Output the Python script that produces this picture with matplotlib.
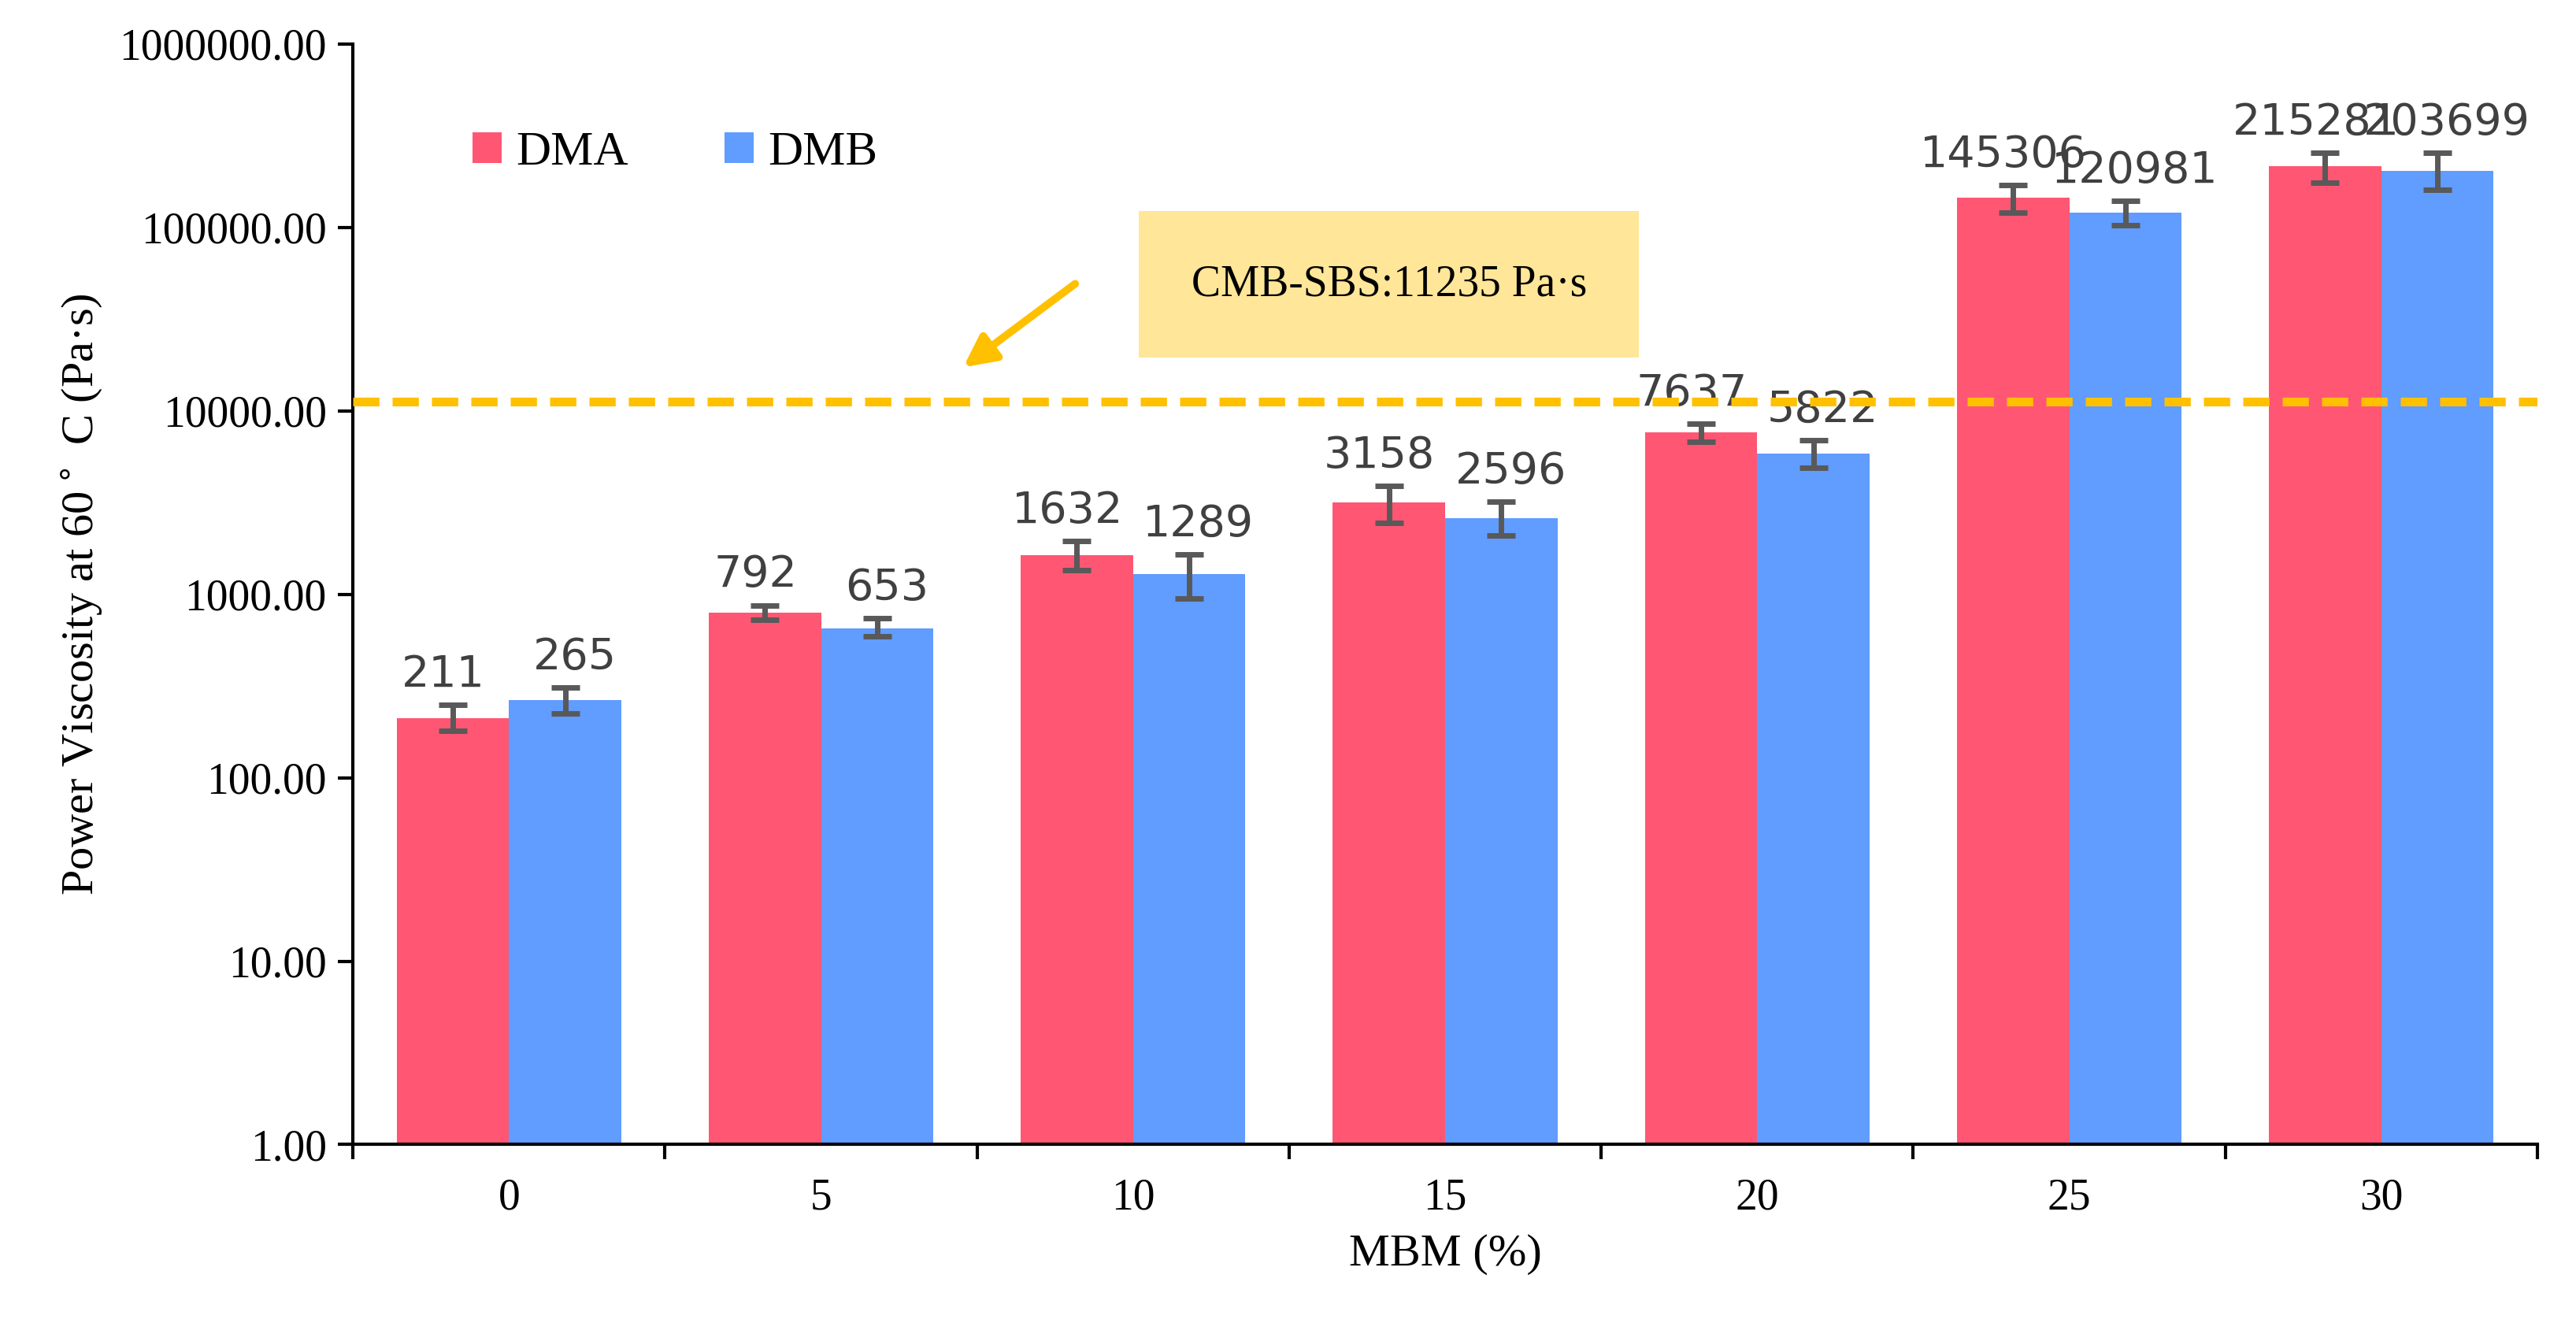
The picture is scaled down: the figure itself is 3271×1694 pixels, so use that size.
import matplotlib
matplotlib.use("Agg")
import matplotlib.pyplot as plt
import numpy as np
from matplotlib.ticker import FixedLocator, NullLocator

categories = ["0", "5", "10", "15", "20", "25", "30"]
dma = [211, 792, 1632, 3158, 7637, 145306, 215281]
dmb = [265, 653, 1289, 2596, 5822, 120981, 203699]
dma_lo = [180, 730, 1350, 2450, 6800, 120000, 175000]
dma_hi = [250, 870, 1950, 3900, 8500, 170000, 255000]
dmb_lo = [225, 590, 950, 2100, 4900, 103000, 160000]
dmb_hi = [310, 740, 1650, 3200, 6900, 140000, 255000]
ref_value = 11235

fig = plt.figure(figsize=(32.71, 16.94), dpi=100)
ax = fig.add_axes([0.137, 0.142, 0.848, 0.825])
x = np.arange(len(categories))
w = 0.36
serif = "Liberation Serif"
c1, c2 = "#FF5773", "#619CFF"
ekw = dict(ecolor="#595959", elinewidth=5, capsize=13, capthick=5)

def err(v, lo, hi):
    return [np.array(v) - np.array(lo), np.array(hi) - np.array(v)]

ax.bar(x - w/2, dma, w, color=c1, label="DMA", zorder=2, yerr=err(dma, dma_lo, dma_hi), error_kw=ekw)
ax.bar(x + w/2, dmb, w, color=c2, label="DMB", zorder=2, yerr=err(dmb, dmb_lo, dmb_hi), error_kw=ekw)
for xi, v, hi in zip(x, dma, dma_hi):
    ax.text(xi - w/2 - 0.03, hi * 1.12, str(v), ha="center", va="bottom", fontsize=40, color="#404040", family="DejaVu Sans")
for xi, v, hi in zip(x, dmb, dmb_hi):
    ax.text(xi + w/2 + 0.03, hi * 1.12, str(v), ha="center", va="bottom", fontsize=40, color="#404040", family="DejaVu Sans")

ax.axhline(ref_value, color="#FFC000", lw=8, ls=(0, (3, 1.5)), zorder=3)
ax.text(2.82, 10**4.69, "CMB-SBS:11235 Pa·s", ha="center", va="center", fontsize=40, family=serif,
        bbox=dict(boxstyle="square,pad=1.2", fc="#FFE699", ec="none"), zorder=4)
ax.annotate("", xy=(1.45, 10**4.23), xytext=(1.82, 10**4.70),
            arrowprops=dict(arrowstyle="-|>", color="#FFC000", lw=7, mutation_scale=60), zorder=4)

ax.set_yscale("log")
ax.set_ylim(1, 1e6)
ax.set_xlim(-0.5, 6.5)
ax.yaxis.set_major_locator(FixedLocator([10**i for i in range(7)]))
ax.yaxis.set_minor_locator(NullLocator())
ax.set_yticklabels([f"{10**i:.2f}" for i in range(7)], family=serif, fontsize=40)
ax.set_xticks(x)
ax.set_xticklabels(categories, family=serif, fontsize=40)
ax.xaxis.set_minor_locator(FixedLocator(np.arange(-0.5, 7, 1)))
ax.tick_params(axis="x", which="major", length=0, pad=30)
ax.tick_params(axis="x", which="minor", length=14, width=3, direction="out")
ax.tick_params(axis="y", length=14, width=3, direction="out", pad=10)
for s in ["top", "right"]:
    ax.spines[s].set_visible(False)
for s in ["left", "bottom"]:
    ax.spines[s].set_linewidth(3)
ax.set_xlabel("MBM (%)", family=serif, fontsize=42, labelpad=14)
ax.set_ylabel("Power Viscosity at 60$^\\circ$ C (Pa·s)", family=serif, fontsize=42, labelpad=14)
ax.legend(loc="upper left", bbox_to_anchor=(0.035, 0.96), ncol=2, frameon=False,
          prop=dict(family=serif, size=44), handlelength=0.6, handleheight=0.6,
          handletextpad=0.3, columnspacing=2.0)
fig.savefig("out.png", dpi=100)
